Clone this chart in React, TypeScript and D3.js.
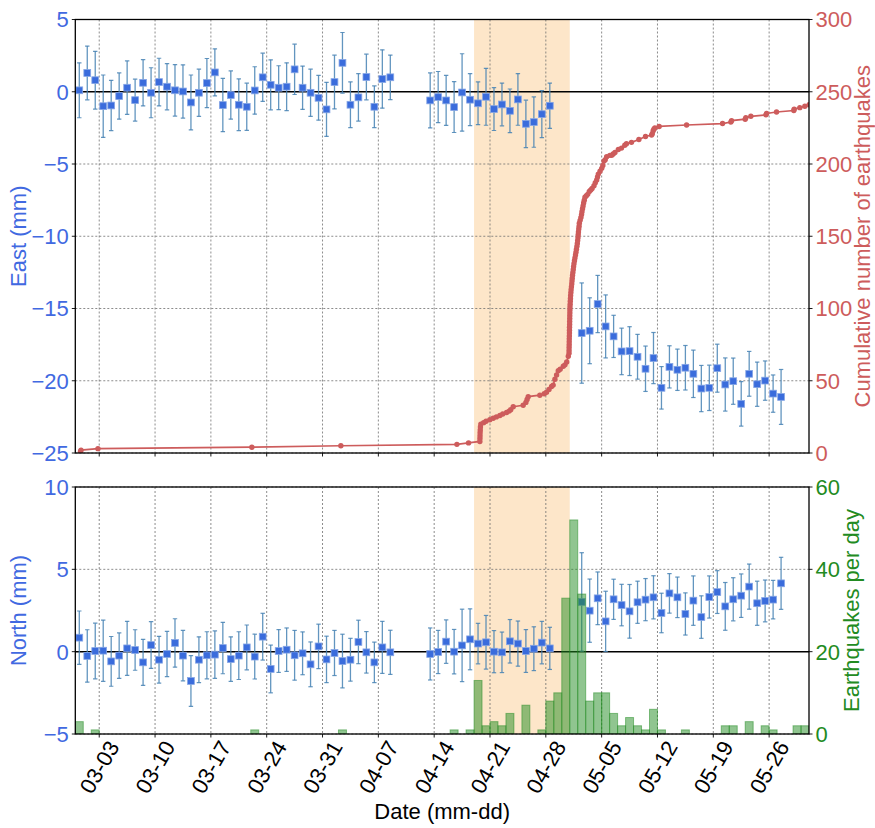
import React from 'react';
import * as d3 from 'd3';

// ---------- DATA ----------
// Daily GPS solutions (12:00 each day) starting 2024-02-29; null = no solution that day
const gpsStart = '2024-02-29';
const eastValues: (number | null)[] = [
  0.1, 1.3, 0.8, -1.0, -0.95, -0.3, 0.28, -0.58, 0.62, -0.07, 0.67, 0.35, 0.1, 0.02, -0.74, -0.07, 0.6, 1.34, -0.92, -0.23,
  -0.9, -1.04, 0.09, 1.0, 0.48, 0.28, 0.35, 1.55, 0.28, -0.07, -0.42, -1.22, 0.67, 2.0, -0.9, -0.39, 1.02, -1.04, 0.88, 1.0,
  null, null, null, null,
  -0.6, -0.37, -0.6, -1.06, -0.05, -0.55, -0.8, -0.35, -1.2, -0.88, -1.32, -0.53, -2.22, -2.1, -1.55, -0.97,
  null, null, null,
  -16.7, -16.54, -14.69, -16.24, -16.93, -17.97, -17.95, -18.34, -19.17, -18.43, -20.49, -19.04, -19.24, -19.1, -19.52,
  -20.54, -20.49, -19.13, -20.26, -20.03, -21.6, -19.52, -20.24, -19.99, -20.89, -21.12,
];
const eastErrors: (number | null)[] = [
  1.9, 1.86, 2.0, 2.16, 1.74, 1.6, 1.85, 1.45, 1.6, 1.73, 1.65, 1.6, 1.78, 1.84, 1.9, 1.63, 1.7, 1.63, 1.84, 1.67,
  1.79, 1.63, 1.64, 1.67, 1.73, 1.52, 1.65, 1.74, 1.5, 1.63, 1.55, 1.87, 1.86, 2.1, 1.58, 1.64, 1.58, 1.44, 2.02, 1.54,
  null, null, null, null,
  1.9, 1.77, 1.73, 1.76, 2.68, 1.8, 1.48, 1.97, 1.48, 1.48, 1.51, 1.79, 1.64, 1.74, 1.63, 1.57,
  null, null, null,
  3.47, 2.28, 1.98, 2.18, 1.46, 1.61, 1.69, 1.55, 1.57, 1.77, 1.47, 1.46, 1.43, 1.54, 1.64,
  1.6, 1.57, 1.66, 1.84, 1.6, 1.54, 1.55, 1.53, 1.36, 1.29, 1.9,
];
const northValues: (number | null)[] = [
  0.85, -0.26, 0.04, 0.06, -0.59, -0.24, 0.2, 0.1, -0.65, 0.4, -0.49, -0.14, 0.53, -0.24, -1.78, -0.49, -0.22, -0.18, 0.22, -0.45,
  -0.24, 0.26, -0.3, 0.91, -1.05, 0.04, 0.12, -0.22, -0.1, -0.77, 0.32, -0.47, -0.08, -0.57, -0.49, 0.59, -0.04, -0.65, 0.26, -0.04,
  null, null, null, null,
  -0.14, -0.02, 0.61, 0.0, 0.38, 0.75, 0.49, 0.57, 0.0, -0.04, 0.63, 0.49, 0.04, 0.18, 0.55, 0.2,
  null, null, null,
  3.02, 2.49, 3.24, 1.84, 3.18, 2.83, 2.45, 3.0, 3.16, 3.3, 2.35, 3.54, 3.3, 2.29, 3.1,
  2.1, 3.32, 3.62, 2.75, 3.18, 3.4, 3.95, 2.94, 3.08, 3.16, 4.15,
];
const northErrors: (number | null)[] = [
  1.62, 1.59, 1.69, 1.86, 1.51, 1.38, 1.64, 1.23, 1.4, 1.42, 1.42, 1.37, 1.47, 1.53, 1.54, 1.39, 1.43, 1.44, 1.56, 1.35,
  1.45, 1.36, 1.36, 1.42, 1.45, 1.3, 1.32, 1.51, 1.3, 1.36, 1.35, 1.41, 1.37, 1.63, 1.3, 1.32, 1.26, 1.23, 1.58, 1.34,
  null, null, null, null,
  1.58, 1.31, 1.32, 1.35, 2.2, 1.85, 1.23, 1.63, 1.28, 1.23, 1.32, 1.37, 1.3, 1.33, 1.29, 1.28,
  null, null, null,
  2.99, 1.92, 1.6, 1.83, 1.22, 1.26, 1.63, 1.28, 1.28, 1.31, 1.2, 1.2, 1.23, 1.28, 1.5,
  1.29, 1.28, 1.3, 1.45, 1.31, 1.32, 1.37, 1.34, 1.27, 1.17, 1.58,
];

// Earthquakes per day (days not listed = 0)
const quakeDays = [
  '02-29', '03-02', '03-22', '04-02', '04-16', '04-18', '04-19', '04-20', '04-21', '04-22', '04-23', '04-25', '04-27',
  '04-28', '04-29', '04-30', '05-01', '05-02', '05-03', '05-04', '05-05', '05-06', '05-07', '05-08', '05-09', '05-10',
  '05-11', '05-12', '05-15', '05-20', '05-21', '05-23', '05-25', '05-26', '05-29', '05-30',
];
const quakeCounts = [
  3, 1, 1, 1, 1, 1, 13, 2, 3, 2, 5, 7, 1,
  8, 10, 33, 52, 34, 8, 10, 10, 5, 2, 4, 2, 1,
  6, 1, 1, 2, 2, 3, 2, 1, 2, 2,
];

// Cumulative number of earthquakes: time in days since 2024-03-01 00:00, and count
const cumTimes = [
  -0.35, -0.28, 1.84, 21.14, 32.3, 46.85, 48.31,
  49.73, 49.74, 49.75, 49.76, 49.78, 49.8, 49.85, 50.2, 50.5, 50.98, 51.4, 51.8, 52.24, 52.6, 53.08, 53.4, 53.6, 53.91,
  55.16, 55.5, 55.65, 55.79, 57.25, 57.8, 58.09, 58.4, 58.72, 58.92, 59.14, 59.35, 59.56, 59.8, 60.19, 60.4, 60.62, 60.82,
  60.91, 60.915, 60.92, 60.93, 60.935, 60.94, 60.95, 60.96, 60.965, 60.97, 60.985, 60.99, 61.0, 61.005, 61.015, 61.02, 61.03,
  61.05, 61.07, 61.09, 61.11, 61.14, 61.17, 61.21, 61.25, 61.28, 61.31, 61.35, 61.39, 61.44, 61.48, 61.53, 61.59, 61.65,
  61.72, 61.78, 61.84, 61.9, 61.95, 61.99, 62.03, 62.06, 62.09, 62.13, 62.17, 62.2, 62.3, 62.4, 62.48, 62.53, 62.6, 62.67,
  62.74, 62.82, 62.91,
  63.08, 63.25, 63.45, 63.63, 63.8, 64.04, 64.2, 64.38, 64.48, 64.58, 64.8, 65.01, 65.15, 65.29, 65.45, 65.63, 66.03, 66.26, 66.44, 66.67,
  67.09, 67.49, 67.9, 68.11, 68.74, 69.67, 70.5, 71.26, 71.35, 71.46, 71.55, 71.67, 72.21,
  75.65, 80.16, 81.2, 81.29, 83.0, 83.08, 83.71, 85.6, 85.68, 86.93, 89.1, 89.14, 89.85, 90.48, 91.02,
];
const cumCounts = [
  1, 2, 3, 4, 5, 6, 7,
  8, 10, 12, 14, 16, 18, 20, 21, 22, 23, 24, 25, 26, 27, 28, 29, 30, 32,
  33, 35, 37, 39, 40, 41, 42, 44, 46, 47, 51, 54, 57, 58, 60, 61, 63, 67,
  69, 71, 73, 75, 77, 79, 81, 83, 85, 87, 89, 91, 93, 95, 97, 99, 101,
  103, 105, 107, 109, 111, 113, 115, 117, 119, 121, 123, 125, 127, 129, 131, 133, 135,
  137, 139, 141, 143, 145, 147, 149, 151, 153, 155, 157, 159, 161, 163, 165, 167, 169, 171,
  173, 175, 177,
  178, 179, 181, 182, 183, 185, 187, 189, 191, 193, 195, 197, 199, 202, 203, 205, 206, 206, 207, 208,
  210, 211, 213, 214, 215, 217, 219, 220, 221, 223, 224, 225, 226,
  227, 228, 229, 230, 231, 232, 233, 234, 235, 236, 237, 238, 239, 240, 241,
];

const xTickLabels = ['03-03', '03-10', '03-17', '03-24', '03-31', '04-07', '04-14', '04-21', '04-28', '05-05', '05-12', '05-19', '05-26'];
const eastTicks = [5, 0, -5, -10, -15, -20, -25];
const northTicks = [10, 5, 0, -5];
const cumTicks = [0, 50, 100, 150, 200, 250, 300];
const rateTicks = [0, 20, 40, 60];
const highlightSpan = ['04-19', '05-01'];

// ---------- STYLE ----------
const FONT = "'Liberation Sans', Arial, Helvetica, sans-serif";
const FS = 22;
const BLUE = '#4169E1';
const RED = '#CD5C5C';
const GREEN = '#228B22';
const ERR = '#4682B4';

const DAY = 864e5;
const md = (s: string) => new Date(Date.UTC(2024, +s.slice(0, 2) - 1, +s.slice(3, 5)));
const fromMar1 = (d: number) => new Date(Date.UTC(2024, 2, 1) + d * DAY);
const minus = (v: number) => (v < 0 ? '\u2212' + Math.abs(v) : String(v));

export default function App() {
  const W = 875, H = 828;
  const L = 75.3, R = 809;
  const topT = 19.5, topB = 453, botT = 487, botB = 734;

  const x = d3.scaleUtc().domain([new Date(Date.UTC(2024, 1, 29)), new Date(Date.UTC(2024, 4, 31))]).range([L, R]);
  const yE = d3.scaleLinear().domain([-25, 5]).range([topB, topT]);
  const yC = d3.scaleLinear().domain([0, 300]).range([topB, topT]);
  const yN = d3.scaleLinear().domain([-5, 10]).range([botB, botT]);
  const yQ = d3.scaleLinear().domain([0, 60]).range([botB, botT]);

  const start = new Date(gpsStart + 'T12:00:00Z').getTime();
  const gpsDate = (i: number) => new Date(start + i * DAY);

  const xTicks = xTickLabels.map(md);
  const spanX0 = x(md(highlightSpan[0]));
  const spanX1 = x(md(highlightSpan[1]));

  const cumPts = cumTimes.map((t, i) => [x(fromMar1(t)), yC(cumCounts[i])] as [number, number]);
  const cumLine = d3.line()(cumPts) || '';

  const grid = (yTicks: number[], ys: d3.ScaleLinear<number, number>, t: number, b: number) => (
    <g>
      {xTicks.map((d, i) => (
        <line key={'v' + i} x1={x(d)} x2={x(d)} y1={t} y2={b} stroke="#6e6e6e" strokeWidth={0.8} strokeDasharray="2,2" />
      ))}
      {yTicks.filter(v => v !== 0).map((v, i) => (
        <line key={'h' + i} x1={L} x2={R} y1={ys(v)} y2={ys(v)} stroke="#6e6e6e" strokeWidth={0.8} strokeDasharray="2,2" />
      ))}
    </g>
  );

  const gps = (vals: (number | null)[], errs: (number | null)[], ys: d3.ScaleLinear<number, number>) => (
    <g>
      {vals.map((v, i) => {
        if (v == null) return null;
        const e = errs[i] as number;
        const cx = x(gpsDate(i));
        const y0 = ys(v - e), y1 = ys(v + e);
        return (
          <g key={i}>
            <line x1={cx} x2={cx} y1={y0} y2={y1} stroke={ERR} strokeWidth={1.3} strokeOpacity={0.85} />
            <line x1={cx - 2.2} x2={cx + 2.2} y1={y0} y2={y0} stroke={ERR} strokeWidth={1.2} strokeOpacity={0.85} />
            <line x1={cx - 2.2} x2={cx + 2.2} y1={y1} y2={y1} stroke={ERR} strokeWidth={1.2} strokeOpacity={0.85} />
          </g>
        );
      })}
      {vals.map((v, i) => {
        if (v == null) return null;
        const cx = x(gpsDate(i));
        return <rect key={'m' + i} x={cx - 3.4} y={ys(v) - 3.4} width={6.8} height={6.8} fill="#3a6cdc" stroke="#86a6e6" strokeWidth={0.8} />;
      })}
    </g>
  );

  const leftAxis = (ticks: number[], ys: d3.ScaleLinear<number, number>) => (
    <g>
      {ticks.map(v => (
        <g key={v}>
          <line x1={L - 3.5} x2={L} y1={ys(v)} y2={ys(v)} stroke="#000" strokeWidth={0.9} />
          <text x={L - 6.5} y={ys(v)} dy="0.36em" textAnchor="end" fill={BLUE} fontSize={FS} fontFamily={FONT}>{minus(v)}</text>
        </g>
      ))}
    </g>
  );
  const rightAxis = (ticks: number[], ys: d3.ScaleLinear<number, number>, color: string) => (
    <g>
      {ticks.map(v => (
        <g key={v}>
          <line x1={R} x2={R + 3.5} y1={ys(v)} y2={ys(v)} stroke="#000" strokeWidth={0.9} />
          <text x={R + 6.5} y={ys(v)} dy="0.36em" textAnchor="start" fill={color} fontSize={FS} fontFamily={FONT}>{v}</text>
        </g>
      ))}
    </g>
  );
  const bottomTicks = (b: number) => (
    <g>
      {xTicks.map((d, i) => (
        <line key={i} x1={x(d)} x2={x(d)} y1={b} y2={b + 3.5} stroke="#000" strokeWidth={0.9} />
      ))}
    </g>
  );

  return (
    <svg width={W} height={H} style={{ position: 'absolute', left: 0, top: 0, background: '#fff' }}>
      <defs>
        <clipPath id="clipTop"><rect x={L} y={topT} width={R - L} height={topB - topT} /></clipPath>
        <clipPath id="clipBot"><rect x={L} y={botT} width={R - L} height={botB - botT} /></clipPath>
      </defs>
      <rect x={0} y={0} width={W} height={H} fill="#fff" />

      {/* ---------- TOP PANEL ---------- */}
      <rect x={spanX0} y={topT} width={spanX1 - spanX0} height={topB - topT} fill="#fde6c9" />
      {grid(eastTicks, yE, topT, topB)}
      <line x1={L} x2={R} y1={yE(0)} y2={yE(0)} stroke="#000" strokeWidth={1.5} />
      <g clipPath="url(#clipTop)">
        {gps(eastValues, eastErrors, yE)}
        <path d={cumLine} fill="none" stroke={RED} strokeWidth={1.7} />
        {cumPts.map((p, i) => <circle key={i} cx={p[0]} cy={p[1]} r={2.7} fill={RED} />)}
      </g>
      <rect x={L} y={topT} width={R - L} height={topB - topT} fill="none" stroke="#000" strokeWidth={1.3} />
      {leftAxis(eastTicks, yE)}
      {rightAxis(cumTicks, yC, RED)}
      {bottomTicks(topB)}
      <text transform={`translate(18,${(topT + topB) / 2}) rotate(-90)`} textAnchor="middle" dy="0.36em" fill={BLUE} fontSize={FS} fontFamily={FONT}>East (mm)</text>
      <text transform={`translate(862,${(topT + topB) / 2}) rotate(-90)`} textAnchor="middle" dy="0.36em" fill={RED} fontSize={FS} fontFamily={FONT}>Cumulative number of earthquakes</text>

      {/* ---------- BOTTOM PANEL ---------- */}
      <rect x={spanX0} y={botT} width={spanX1 - spanX0} height={botB - botT} fill="#fde6c9" />
      {grid(northTicks, yN, botT, botB)}
      <line x1={L} x2={R} y1={yN(0)} y2={yN(0)} stroke="#000" strokeWidth={1.5} />
      <g clipPath="url(#clipBot)">
        {gps(northValues, northErrors, yN)}
        {quakeDays.map((d, i) => {
          const d0 = md(d);
          const x0 = x(d0), x1 = x(new Date(d0.getTime() + DAY));
          return (
            <rect key={i} x={x0} y={yQ(quakeCounts[i])} width={x1 - x0} height={yQ(0) - yQ(quakeCounts[i])}
              fill={GREEN} fillOpacity={0.5} stroke={GREEN} strokeOpacity={0.5} strokeWidth={1} />
          );
        })}
      </g>
      <rect x={L} y={botT} width={R - L} height={botB - botT} fill="none" stroke="#000" strokeWidth={1.3} />
      {leftAxis(northTicks, yN)}
      {rightAxis(rateTicks, yQ, GREEN)}
      {bottomTicks(botB)}
      {xTicks.map((d, i) => (
        <text key={i} transform={`translate(${x(d)},${botB + 33}) rotate(-60)`} textAnchor="middle" dy="0.36em" fontSize={FS} fontFamily={FONT} fill="#000">{xTickLabels[i]}</text>
      ))}
      <text transform={`translate(18,${(botT + botB) / 2}) rotate(-90)`} textAnchor="middle" dy="0.36em" fill={BLUE} fontSize={FS} fontFamily={FONT}>North (mm)</text>
      <text transform={`translate(851,${(botT + botB) / 2}) rotate(-90)`} textAnchor="middle" dy="0.36em" fill={GREEN} fontSize={FS} fontFamily={FONT}>Earthquakes per day</text>
      <text x={(L + R) / 2} y={819} textAnchor="middle" fontSize={FS} fontFamily={FONT} fill="#000">Date (mm-dd)</text>
    </svg>
  );
}
